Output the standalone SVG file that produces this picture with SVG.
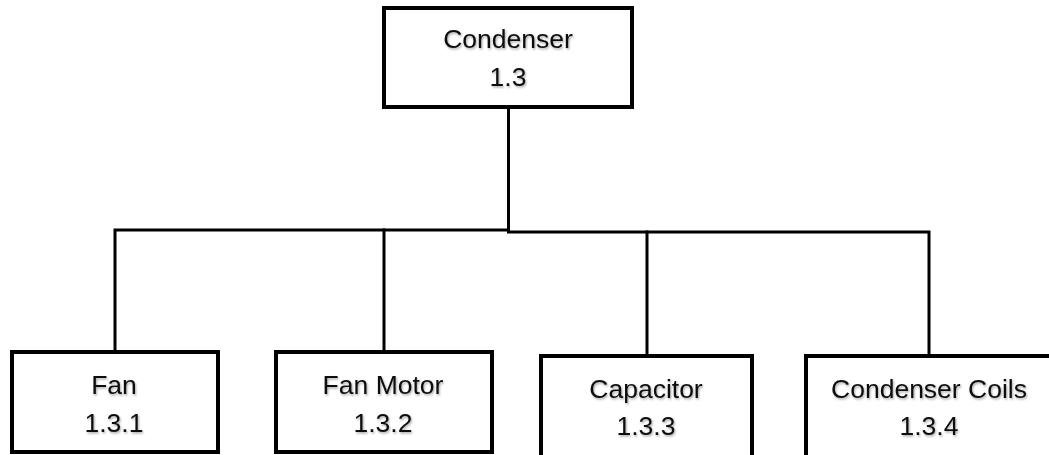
<svg xmlns="http://www.w3.org/2000/svg" width="1049" height="455" viewBox="0 0 1049 455">
  <defs>
    <filter id="soft" x="-10%" y="-10%" width="120%" height="130%">
      <feDropShadow dx="1" dy="1.5" stdDeviation="1" flood-color="#000" flood-opacity="0.35"/>
    </filter>
    <style>
      .box { fill: #fff; stroke: #000; stroke-width: 4; }
      .wire { fill: none; stroke: #000; stroke-width: 3; stroke-linejoin: miter; stroke-linecap: square; }
      .label { font-family: "Liberation Sans", Arial, sans-serif; font-size: 26.5px; fill: #111; text-anchor: middle; filter: url(#soft); }
    </style>
  </defs>
  <rect width="1049" height="455" fill="#fff"/>

  <!-- tree connectors -->
  <g id="connectors" class="wire">
    <path d="M508.5 107 V230 H115 V352"/>
    <path d="M384 230 V352"/>
    <path d="M508.5 232 H929 V356"/>
    <path d="M647 232 V356"/>
  </g>

  <g id="condenser">
    <rect class="box" x="384" y="8" width="248" height="99"/>
    <text class="label" x="508" y="48">Condenser</text>
    <text class="label" x="508" y="86">1.3</text>
  </g>

  <g id="fan">
    <rect class="box" x="12" y="352" width="206" height="100"/>
    <text class="label" x="114" y="394">Fan</text>
    <text class="label" x="114" y="432">1.3.1</text>
  </g>

  <g id="fan-motor">
    <rect class="box" x="276" y="352" width="216" height="100"/>
    <text class="label" x="383" y="394">Fan Motor</text>
    <text class="label" x="383" y="432">1.3.2</text>
  </g>

  <g id="capacitor">
    <rect class="box" x="541" y="356" width="211" height="104"/>
    <text class="label" x="646" y="398">Capacitor</text>
    <text class="label" x="646" y="435">1.3.3</text>
  </g>

  <g id="condenser-coils">
    <rect class="box" x="806" y="356" width="260" height="104"/>
    <text class="label" x="929" y="398">Condenser Coils</text>
    <text class="label" x="929" y="435">1.3.4</text>
  </g>
</svg>
